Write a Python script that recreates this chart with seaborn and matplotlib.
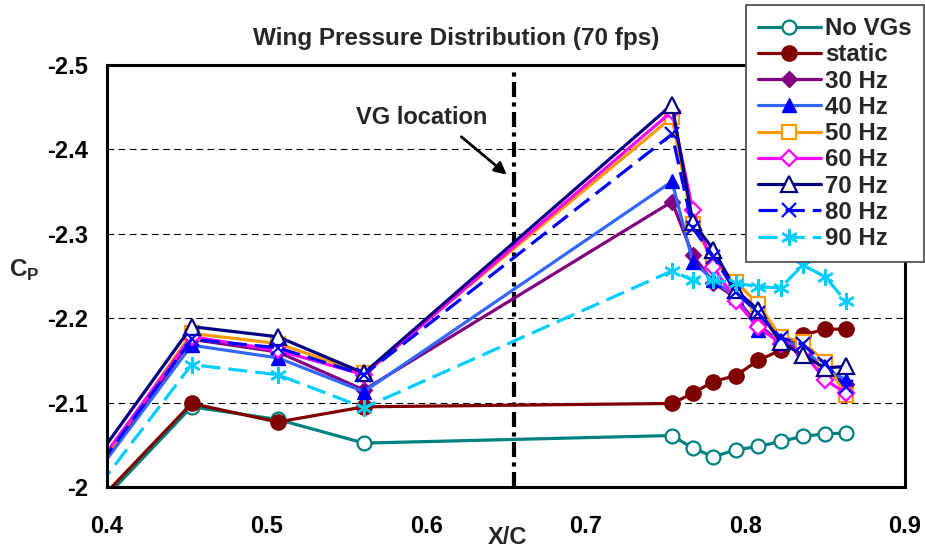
import matplotlib
matplotlib.use("Agg")
import matplotlib.pyplot as plt
import seaborn as sns
import pandas as pd

# ---------------- data ----------------
x_c = [0.35, 0.453, 0.507, 0.561, 0.754, 0.767, 0.780, 0.794, 0.808, 0.822, 0.836, 0.850, 0.863]

no_vgs = [-1.890, -2.095, -2.080, -2.052, -2.061, -2.046, -2.036, -2.044, -2.048, -2.054, -2.060, -2.063, -2.064]
static = [-1.895, -2.099, -2.077, -2.095, -2.099, -2.111, -2.125, -2.132, -2.150, -2.162, -2.180, -2.187, -2.187]
hz30 = [-1.906, -2.175, -2.160, -2.115, -2.338, -2.275, -2.242, -2.224, -2.192, -2.172, -2.163, -2.138, -2.122]
hz40 = [-1.906, -2.168, -2.153, -2.113, -2.362, -2.267, -2.245, -2.225, -2.186, -2.175, -2.165, -2.140, -2.127]
hz50 = [-1.904, -2.182, -2.170, -2.135, -2.438, -2.312, -2.267, -2.243, -2.217, -2.178, -2.172, -2.148, -2.109]
hz60 = [-1.913, -2.178, -2.162, -2.133, -2.445, -2.328, -2.261, -2.220, -2.190, -2.170, -2.160, -2.127, -2.111]
hz70 = [-1.920, -2.190, -2.178, -2.135, -2.453, -2.314, -2.281, -2.233, -2.210, -2.172, -2.156, -2.141, -2.143]
hz80 = [-1.909, -2.175, -2.165, -2.133, -2.418, -2.307, -2.273, -2.231, -2.206, -2.177, -2.169, -2.146, -2.119]
hz90 = [-1.890, -2.145, -2.133, -2.094, -2.256, -2.245, -2.245, -2.242, -2.237, -2.236, -2.263, -2.249, -2.220]

series_labels = ["No VGs", "static", "30 Hz", "40 Hz", "50 Hz", "60 Hz", "70 Hz", "80 Hz", "90 Hz"]
series_values = [no_vgs, static, hz30, hz40, hz50, hz60, hz70, hz80, hz90]

x_ticks = [0.4, 0.5, 0.6, 0.7, 0.8, 0.9]
x_ticklabels = ["0.4", "0.5", "0.6", "0.7", "0.8", "0.9"]
y_ticks = [-2.5, -2.4, -2.3, -2.2, -2.1, -2.0]
y_ticklabels = ["-2.5", "-2.4", "-2.3", "-2.2", "-2.1", "-2"]
vg_location = 0.655

title = "Wing Pressure Distribution (70 fps)"

# ---------------- styles ----------------
styles = {
    "No VGs": dict(color="#008080", marker="o", markersize=10, markerfacecolor="white",
                   markeredgecolor="#008080", markeredgewidth=1.6, linestyle="-"),
    "static": dict(color="#800000", marker="o", markersize=11, markerfacecolor="#800000",
                   markeredgecolor="#800000", markeredgewidth=1.0, linestyle="-"),
    "30 Hz": dict(color="#800080", marker="D", markersize=8, markerfacecolor="#800080",
                  markeredgecolor="#800080", markeredgewidth=1.0, linestyle="-"),
    "40 Hz": dict(color="#3366FF", marker="^", markersize=10, markerfacecolor="#0000FF",
                  markeredgecolor="#0000FF", markeredgewidth=1.0, linestyle="-"),
    "50 Hz": dict(color="#FF9900", marker="s", markersize=10, markerfacecolor="white",
                  markeredgecolor="#FF9900", markeredgewidth=1.6, linestyle="-"),
    "60 Hz": dict(color="#FF00FF", marker="D", markersize=8, markerfacecolor="white",
                  markeredgecolor="#FF00FF", markeredgewidth=1.6, linestyle="-"),
    "70 Hz": dict(color="#000080", marker="^", markersize=11, markerfacecolor="white",
                  markeredgecolor="#000080", markeredgewidth=1.6, linestyle="-"),
    "80 Hz": dict(color="#0000FF", marker="x", markersize=10, markerfacecolor="#0000FF",
                  markeredgecolor="#0000FF", markeredgewidth=1.6, linestyle=(0, (6, 2.5))),
    "90 Hz": dict(color="#00CCFF", marker=(6, 2, 0), markersize=12, markerfacecolor="#00CCFF",
                  markeredgecolor="#00CCFF", markeredgewidth=1.8, linestyle=(0, (6, 2.5))),
}

sns.set_theme(style="white")
plt.rcParams["font.family"] = ["Liberation Sans", "DejaVu Sans"]
plt.rcParams["font.weight"] = "bold"
plt.rcParams["mathtext.fontset"] = "custom"
plt.rcParams["mathtext.rm"] = "Liberation Sans:bold"
plt.rcParams["mathtext.bf"] = "Liberation Sans:bold"

fig = plt.figure(figsize=(9.25, 5.5), dpi=100)
ax = fig.add_axes([107 / 925, 1 - 487 / 550, (905 - 107) / 925, (487 - 65) / 550])

for lab, vals in zip(series_labels, series_values):
    df = pd.DataFrame({"x": x_c, "y": vals})
    sns.lineplot(data=df, x="x", y="y", ax=ax, label=lab, linewidth=2.3,
                 errorbar=None, sort=False, legend=False, **styles[lab])

ax.set_xlim(0.4, 0.9)
ax.set_ylim(-2.0, -2.5)
ax.set_xticks(x_ticks)
ax.set_xticklabels(x_ticklabels)
ax.set_yticks(y_ticks)
ax.set_yticklabels(y_ticklabels)
ax.set_xlabel("")
ax.set_ylabel("")

ax.yaxis.grid(True, color="black", linewidth=0.8, linestyle=(0, (6, 4)))
ax.xaxis.grid(False)
ax.set_axisbelow(True)

for sp in ax.spines.values():
    sp.set_visible(True)
    sp.set_color("black")
    sp.set_linewidth(2.2)

ax.tick_params(axis="both", which="major", direction="out", length=5.5, width=0.9,
               color="black", labelsize=17, labelcolor="black")
ax.tick_params(axis="x", pad=15)
ax.tick_params(axis="y", pad=8)
for t in ax.get_xticklabels() + ax.get_yticklabels():
    t.set_fontweight("bold")

# VG location line
ax.axvline(vg_location, color="black", linewidth=3.0, linestyle=(0, (3.6, 1.3, 1, 1.3)), zorder=1.5)

# annotation
ax.text(0.597, -2.438, "VG location", ha="center", va="center", fontsize=17, fontweight="bold")
ax.annotate("", xy=(0.6505, -2.370), xytext=(0.622, -2.415),
            arrowprops=dict(arrowstyle="-|>", color="black", lw=2.0, mutation_scale=18,
                            shrinkA=0, shrinkB=0))

# title, axis labels
fig.text(456 / 925, 1 - 39 / 550, title, ha="center", va="center", fontsize=17.5, fontweight="bold")
fig.text(507 / 925, 1 - 538 / 550, "X/C", ha="center", va="center", fontsize=17, fontweight="bold")
fig.text(24 / 925, 1 - 270 / 550, r"C$_\mathregular{P}$", ha="center", va="center",
         fontsize=17.5, fontweight="bold")

handles, labels = ax.get_legend_handles_labels()
leg = ax.legend(handles, labels, loc="upper right", bbox_to_anchor=(924 / 925, 1 - 5 / 550),
                bbox_transform=fig.transFigure, borderaxespad=0, fancybox=False, frameon=True,
                framealpha=1, edgecolor="#444444", fontsize=17.3, labelspacing=0.136,
                handlelength=2.6, handletextpad=0.2, borderpad=0.5, numpoints=1)
leg.get_frame().set_linewidth(1.2)
for t in leg.get_texts():
    t.set_fontweight("bold")

fig.savefig("out.png", dpi=100)
